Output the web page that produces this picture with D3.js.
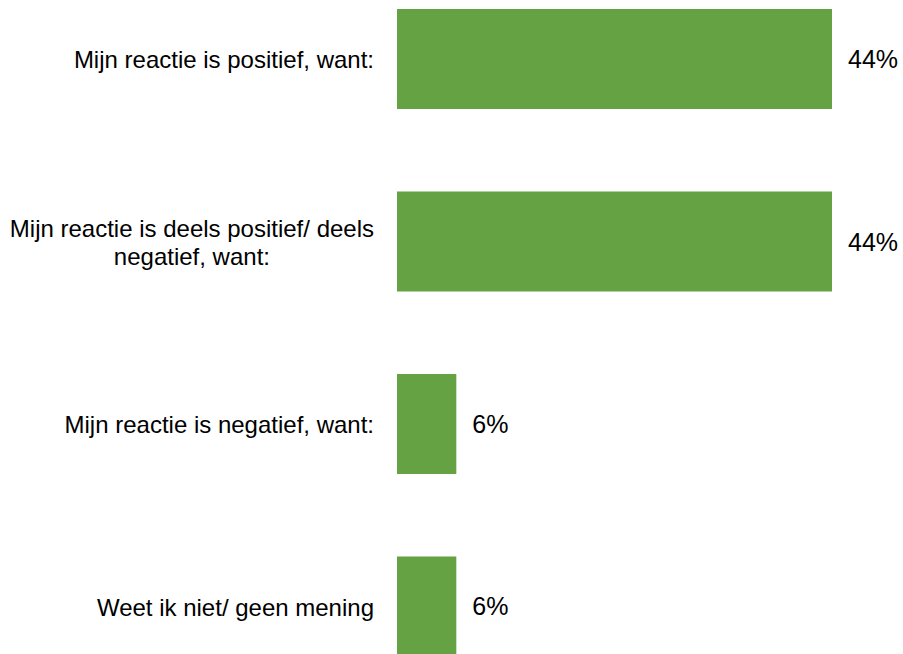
<!DOCTYPE html>
<html>
<head>
<meta charset="utf-8">
<script src="https://cdn.jsdelivr.net/npm/d3@7"></script>
<style>
  body { margin: 0; background: #fff; }
  text { font-family: Arial, "Liberation Sans", sans-serif; fill: #000; }
</style>
</head>
<body>
<script>
const width = 903;
const height = 654;

// data
const categories = [
  ['Mijn reactie is positief, want:'],
  ['Mijn reactie is deels positief/ deels', 'negatief, want:'],
  ['Mijn reactie is negatief, want:'],
  ['Weet ik niet/ geen mening']
];
const values = [44, 44, 6, 6];
const valueLabels = ['44%', '44%', '6%', '6%'];

const svg = d3.select('body')
  .append('svg')
  .attr('width', width)
  .attr('height', height);

const x = d3.scaleLinear()
  .domain([0, 44])
  .range([397, 832]);

const y = d3.scaleBand()
  .domain(d3.range(categories.length))
  .range([9, 656.5])
  .paddingInner(0.452)
  .paddingOuter(0);

svg.selectAll('.bar')
  .data(values)
  .enter()
  .append('rect')
  .attr('class', 'bar')
  .attr('x', x(0))
  .attr('y', (d, i) => y(i))
  .attr('width', d => x(d) - x(0))
  .attr('height', y.bandwidth())
  .attr('fill', '#65a244');

// value labels
svg.selectAll('.val')
  .data(values)
  .enter()
  .append('text')
  .attr('class', 'val')
  .attr('x', d => x(d) + 16)
  .attr('y', (d, i) => y(i) + y.bandwidth() / 2)
  .attr('dy', '0.36em')
  .style('font-size', '25px')
  .text((d, i) => valueLabels[i]);

// category labels
const lineH = 28;
const cat = svg.selectAll('.cat')
  .data(categories)
  .enter()
  .append('text')
  .attr('class', 'cat')
  .attr('text-anchor', 'middle')
  .style('font-size', '24px');

cat.each(function(lines, i) {
  const el = d3.select(this);
  const cy = y(i) + y.bandwidth() / 2;
  const top = cy - (lines.length - 1) * lineH / 2;
  lines.forEach((ln, j) => {
    el.append('tspan')
      .attr('y', top + j * lineH)
      .attr('dy', '0.38em')
      .text(ln);
  });
});

// right-align the block, center the lines inside it
cat.each(function() {
  const el = d3.select(this);
  const spans = el.selectAll('tspan').nodes();
  const w = d3.max(spans, s => s.getComputedTextLength());
  el.selectAll('tspan').attr('x', 374 - w / 2);
});
</script>
</body>
</html>
